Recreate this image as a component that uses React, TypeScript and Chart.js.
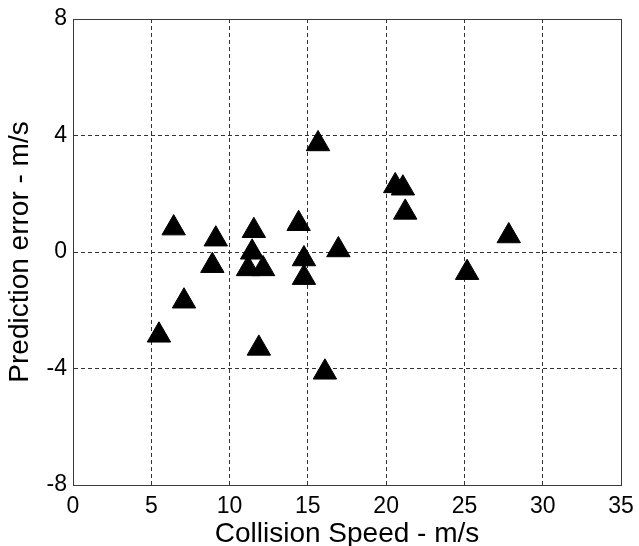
import React, { useEffect, useRef } from "react";
import { Chart, registerables } from "chart.js";

Chart.register(...registerables);

// Collision speed (m/s) for each case
const collisionSpeed = [
  6.43, 9.12, 11.55, 14.41, 15.65, 16.95, 20.58, 21.07, 21.22, 27.83, 25.17,
  16.09, 14.75, 14.75, 8.9, 7.09, 5.49, 11.87, 11.44, 11.18, 12.14,
];
// Prediction error (m/s) for each case
const predictionError = [
  0.82, 0.44, 0.73, 0.97, 3.71, 0.07, 2.27, 2.19, 1.36, 0.55, -0.71, -4.13,
  -0.24, -0.88, -0.47, -1.69, -2.86, -3.31, -0.01, -0.58, -0.58,
];

const xTicks = [0, 5, 10, 15, 20, 25, 30, 35];
const yTicks = [-8, -4, 0, 4, 8];

const xTitle = "Collision Speed - m/s";
const yTitle = "Prediction error - m/s";

const FONT = "'Liberation Sans', Arial, Helvetica, sans-serif";

const boxPlugin = {
  id: "boxFrame",
  afterDatasetsDraw(chart: any) {
    const { ctx, chartArea } = chart;
    const { left, top, right, bottom } = chartArea;
    ctx.save();
    ctx.strokeStyle = "#3a3a3a";
    ctx.lineWidth = 1;
    ctx.setLineDash([]);
    ctx.strokeRect(
      Math.round(left) + 0.5,
      Math.round(top) + 0.5,
      Math.round(right) - Math.round(left),
      Math.round(bottom) - Math.round(top)
    );
    ctx.restore();
  },
};

export default function App() {
  const canvasRef = useRef<HTMLCanvasElement | null>(null);

  useEffect(() => {
    const canvas = canvasRef.current;
    if (!canvas) return;
    const points = collisionSpeed.map((x, i) => ({ x, y: predictionError[i] }));
    const chart = new Chart(canvas, {
      type: "scatter",
      data: {
        datasets: [
          {
            data: points,
            pointStyle: "triangle",
            pointRadius: 13.5,
            pointHoverRadius: 13.5,
            backgroundColor: "#000000",
            borderColor: "#000000",
            borderWidth: 1,
          },
        ],
      },
      options: {
        responsive: false,
        animation: false,
        devicePixelRatio: 1,
        layout: { padding: { left: 0, top: 19, right: 18, bottom: 0 } },
        plugins: {
          legend: { display: false },
          tooltip: { enabled: false },
        },
        scales: {
          x: {
            type: "linear",
            min: xTicks[0],
            max: xTicks[xTicks.length - 1],
            afterBuildTicks: (s: any) => {
              s.ticks = xTicks.map((v) => ({ value: v }));
            },
            afterFit: (s: any) => {
              s.height = 61;
              s.paddingLeft = 0;
              s.paddingRight = 0;
              s.paddingTop = 0;
              s.paddingBottom = 0;
            },
            grid: {
              color: "#333333",
              lineWidth: 1,
              drawTicks: false,
            },
            border: { display: true, color: "#3a3a3a", dash: [4, 3] },
            ticks: {
              color: "#000000",
              font: { family: FONT, size: 23 },
              padding: 8,
              maxRotation: 0,
              autoSkip: false,
            },
            title: {
              display: true,
              text: xTitle,
              color: "#000000",
              font: { family: FONT, size: 28, lineHeight: "24px" },
              padding: { top: 0, bottom: 0 },
            },
          },
          y: {
            type: "linear",
            min: yTicks[0],
            max: yTicks[yTicks.length - 1],
            afterBuildTicks: (s: any) => {
              s.ticks = yTicks.map((v) => ({ value: v }));
            },
            afterFit: (s: any) => {
              s.width = 73;
              s.paddingLeft = 0;
              s.paddingRight = 0;
              s.paddingTop = 0;
              s.paddingBottom = 0;
            },
            grid: {
              color: "#333333",
              lineWidth: 1,
              drawTicks: false,
            },
            border: { display: true, color: "#3a3a3a", dash: [4, 3] },
            ticks: {
              color: "#000000",
              font: { family: FONT, size: 23 },
              padding: 6,
              autoSkip: false,
            },
            title: {
              display: true,
              text: yTitle,
              color: "#000000",
              font: { family: FONT, size: 28, lineHeight: "28px" },
              padding: { top: 6, bottom: 0 },
            },
          },
        },
      },
      plugins: [boxPlugin],
    });
    return () => chart.destroy();
  }, []);

  return (
    <div
      style={{
        position: "absolute",
        left: 0,
        top: 0,
        width: 639,
        height: 546,
        background: "#ffffff",
      }}
    >
      <canvas ref={canvasRef} width={639} height={546} />
    </div>
  );
}
